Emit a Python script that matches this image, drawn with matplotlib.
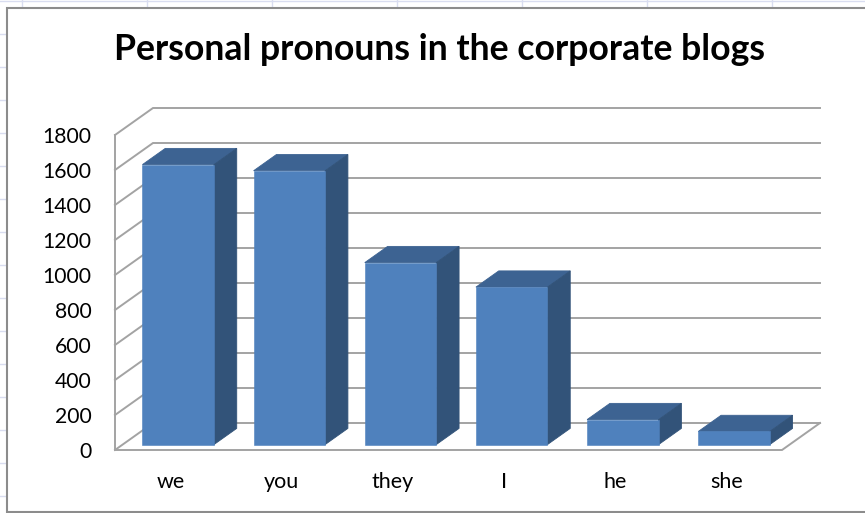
import matplotlib
matplotlib.use('Agg')
import matplotlib.pyplot as plt
from matplotlib.patches import Rectangle

pronouns = ['we', 'you', 'they', 'I', 'he', 'she']
counts = [1600, 1565, 1040, 900, 143, 75]
value_ticks = [0, 200, 400, 600, 800, 1000, 1200, 1400, 1600, 1800]
title = 'Personal pronouns in the corporate blogs'

W, H = 865, 513
plt.rcParams['font.family'] = ['Lato', 'DejaVu Sans']

fig = plt.figure(figsize=(W / 100, H / 100), dpi=100)
fig.patch.set_facecolor('white')

# sheet behind the chart, in pixels
bg = fig.add_axes([0, 0, 1, 1])
bg.set_xlim(0, W)
bg.set_ylim(H, 0)
bg.axis('off')
for px in range(22, W, 125):
    bg.plot([px, px], [0, 8], c='#d9ddf0', lw=1)
for py in range(1, H, 33):
    bg.plot([0, W], [py, py], c='#d9ddf0', lw=1)
bg.add_patch(Rectangle((7, 8), W, 504, fc='white', ec='#8c8c8c', lw=1.5, zorder=3))

# front plane of the 3d box
left, right, bottom, top = 115, 782, 450, 135
ax = fig.add_axes([left / W, 1 - bottom / H, (right - left) / W, (bottom - top) / H])
ax.set_xlim(0, len(pronouns))
ax.set_ylim(0, 1800)
ax.patch.set_alpha(0)
for s in ax.spines.values():
    s.set_visible(False)

# depth of the box, in data units
depth_x = 38 / ((right - left) / len(pronouns))
depth_y = 27 / ((bottom - top) / 1800)


def project(x, y, d):
    return x + d * depth_x, y + d * depth_y


grid_c = '#a3a3a3'
n = len(pronouns)
for v in value_ticks:
    xs, ys = zip(project(0, v, 0), project(0, v, 1), project(n, v, 1))
    ax.plot(xs, ys, c=grid_c, lw=1.4, clip_on=False, zorder=1, solid_joinstyle='miter')
# floor and left edge
xs, ys = zip(project(0, 0, 0), project(n, 0, 0), project(n, 0, 1))
ax.plot(xs, ys, c=grid_c, lw=1.4, clip_on=False, zorder=1, solid_joinstyle='miter')
ax.plot([0, 0], [0, 1800], c=grid_c, lw=1.4, clip_on=False, zorder=1)

# bars
bar_w = 71.5 / ((right - left) / n)
d0, d1 = 0.2, 0.8
for i, val in enumerate(counts):
    x0 = i + 0.5 - bar_w / 2
    x1 = x0 + bar_w
    fl, bl = project(x0, 0, d0), project(x0, val, d0)
    fr, br = project(x1, 0, d0), project(x1, val, d0)
    top_l, top_r = project(x0, val, d1), project(x1, val, d1)
    low_r = project(x1, 0, d1)
    ax.fill(*zip(fl, bl, br, fr), fc='#4f81bd', ec='#4f81bd', lw=0.4, clip_on=False, zorder=4)
    ax.fill(*zip(bl, top_l, top_r, br), fc='#3d6392', ec='#3d6392', lw=0.6, clip_on=False, zorder=3)
    ax.fill(*zip(fr, br, top_r, low_r), fc='#325379', ec='#325379', lw=0.6, clip_on=False, zorder=3)

ax.set_yticks(value_ticks)
ax.set_xticks([i + 0.5 for i in range(n)])
ax.set_xticklabels(pronouns)
ax.tick_params(axis='y', length=0, pad=17, labelsize=15.2, labelcolor='black')
ax.tick_params(axis='x', length=0, pad=15.5, labelsize=15.5, labelcolor='black')

fig.text(439 / W, 1 - 50 / H, title, ha='center', va='center',
         fontsize=25.7, fontweight='bold', color='black')

fig.savefig('out.png', dpi=100)
